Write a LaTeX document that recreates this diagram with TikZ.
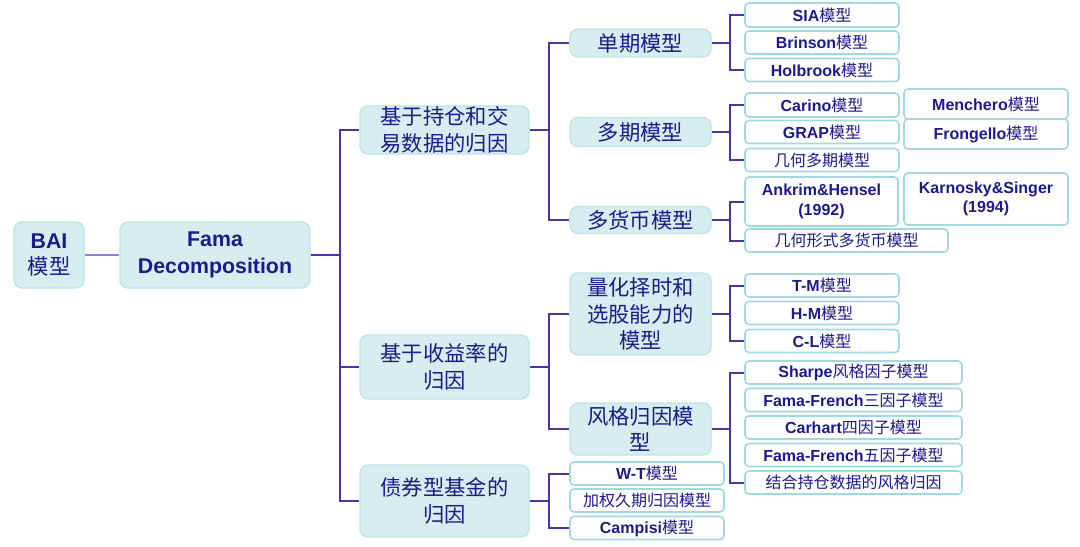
\documentclass[tikz,border=0pt]{standalone}
\usepackage{fontspec}
\setmainfont{Liberation Sans}
\newfontfamily\cjk{Noto Sans CJK SC}
\newcommand\zh[1]{{\cjk\mdseries #1}}
\definecolor{ink}{RGB}{28,26,140}
\definecolor{wire}{RGB}{66,56,170}
\definecolor{softwire}{RGB}{140,134,210}
\definecolor{boxfill}{RGB}{214,238,240}
\definecolor{boxline}{RGB}{190,227,231}
\definecolor{leafline}{RGB}{160,217,223}
\tikzset{wh/.style 2 args={minimum width=#1*0.75pt,minimum height=#2*0.75pt}}

\begin{document}
\begin{tikzpicture}
[x=0.75pt,y=-0.75pt]
\tikzstyle{main box}=[draw=boxline,fill=boxfill,line width=1pt,rounded corners=6pt,text=ink,inner sep=0,align=center,font=\fontsize{16}{20}\selectfont\bfseries]
\tikzstyle{leaf box}=[draw=leafline,fill=white,line width=1.2pt,rounded corners=3pt,text=ink,inner sep=0,align=center,font=\fontsize{12}{14.5}\selectfont\bfseries]
\tikzstyle{link}=[draw=wire,line width=1.5pt]

\useasboundingbox (0,0) rectangle (1080,546);

% root and first level
\node(bai)[main box,wh={70}{66}]at(49,255){BAI\\\zh{模型}};
\node(fama)[main box,wh={190}{66}]at(215,255){Fama\\Decomposition};
\node(hold)[main box,wh={169}{48}]at(444.5,130){\zh{基于持仓和交}\\\zh{易数据的归因}};
\node(ret)[main box,wh={169}{64}]at(444.5,367){\zh{基于收益率的}\\\zh{归因}};
\node(bond)[main box,wh={169}{72}]at(444.5,501){\zh{债券型基金的}\\\zh{归因}};

% second level
\node(single)[main box,wh={141}{28}]at(640.5,43){\zh{单期模型}};
\node(multi)[main box,wh={141}{29}]at(640.5,132){\zh{多期模型}};
\node(curr)[main box,wh={141}{27}]at(640.5,220){\zh{多货币模型}};
\node(quant)[main box,wh={141}{82}]at(640.5,314){\zh{量化择时和}\\\zh{选股能力的}\\\zh{模型}};
\node(style)[main box,wh={141}{52}]at(640.5,429){\zh{风格归因模}\\\zh{型}};

% leaves
\node(sia)[leaf box,wh={154}{24}]at(822,15){SIA\zh{模型}};
\node(brinson)[leaf box,wh={154}{23}]at(822,42.5){Brinson\zh{模型}};
\node(holbrook)[leaf box,wh={154}{23}]at(822,70){Holbrook\zh{模型}};
\node(carino)[leaf box,wh={154}{24}]at(822,105){Carino\zh{模型}};
\node(grap)[leaf box,wh={154}{23}]at(822,132){GRAP\zh{模型}};
\node(geommulti)[leaf box,wh={154}{23}]at(822,160){\zh{几何多期模型}};
\node(menchero)[leaf box,wh={164}{30}]at(986,104){Menchero\zh{模型}};
\node(frongello)[leaf box,wh={164}{30}]at(986,134){Frongello\zh{模型}};
\node(ankrim)[leaf box,wh={153}{49}]at(821.5,201.5){Ankrim\&Hensel\\(1992)};
\node(karnosky)[leaf box,wh={164}{52}]at(986,199){Karnosky\&Singer\\(1994)};
\node(geomcurr)[leaf box,wh={203}{23}]at(846.5,240.5){\zh{几何形式多货币模型}};
\node(tm)[leaf box,wh={154}{23}]at(822,285.5){T-M\zh{模型}};
\node(hm)[leaf box,wh={154}{23}]at(822,313){H-M\zh{模型}};
\node(cl)[leaf box,wh={154}{23}]at(822,341){C-L\zh{模型}};
\node(sharpe)[leaf box,wh={217}{23}]at(853.5,372.5){Sharpe\zh{风格因子模型}};
\node(ff3)[leaf box,wh={217}{23}]at(853.5,400){Fama-French\zh{三因子模型}};
\node(carhart)[leaf box,wh={217}{23}]at(853.5,427.5){Carhart\zh{四因子模型}};
\node(ff5)[leaf box,wh={217}{23}]at(853.5,455){Fama-French\zh{五因子模型}};
\node(holdstyle)[leaf box,wh={217}{23}]at(853.5,482.5){\zh{结合持仓数据的风格归因}};
\node(wt)[leaf box,wh={154}{23}]at(647,473.5){W-T\zh{模型}};
\node(dur)[leaf box,wh={154}{23}]at(647,500.5){\zh{加权久期归因模型}};
\node(campisi)[leaf box,wh={154}{23}]at(647,528){Campisi\zh{模型}};

% bracket columns
\coordinate(c0)at(340,0);
\coordinate(c1)at(549,0);
\coordinate(c2)at(730,0);

\draw[link,draw=softwire,line width=1.2pt](bai)--(fama);
\foreach \n in {hold,ret,bond}
  \draw[link](fama.east)--(fama.east-|c0)|-(\n.west);
% brackets reach only the outer children
\foreach \p/\a/\b in {hold/single/curr,ret/quant/style,bond/wt/campisi}
  \draw[link](\p.east)--(\p.east-|c1)
    (\a.west)-|(\p.east-|c1)|-(\b.west);
\foreach \p/\a/\b in {single/sia/holbrook,multi/carino/geommulti,curr/ankrim/geomcurr,quant/tm/cl,style/sharpe/holdstyle}
  \draw[link](\p.east)--(\p.east-|c2)
    (\a.west)-|(\p.east-|c2)|-(\b.west);
\end{tikzpicture}
\end{document}
